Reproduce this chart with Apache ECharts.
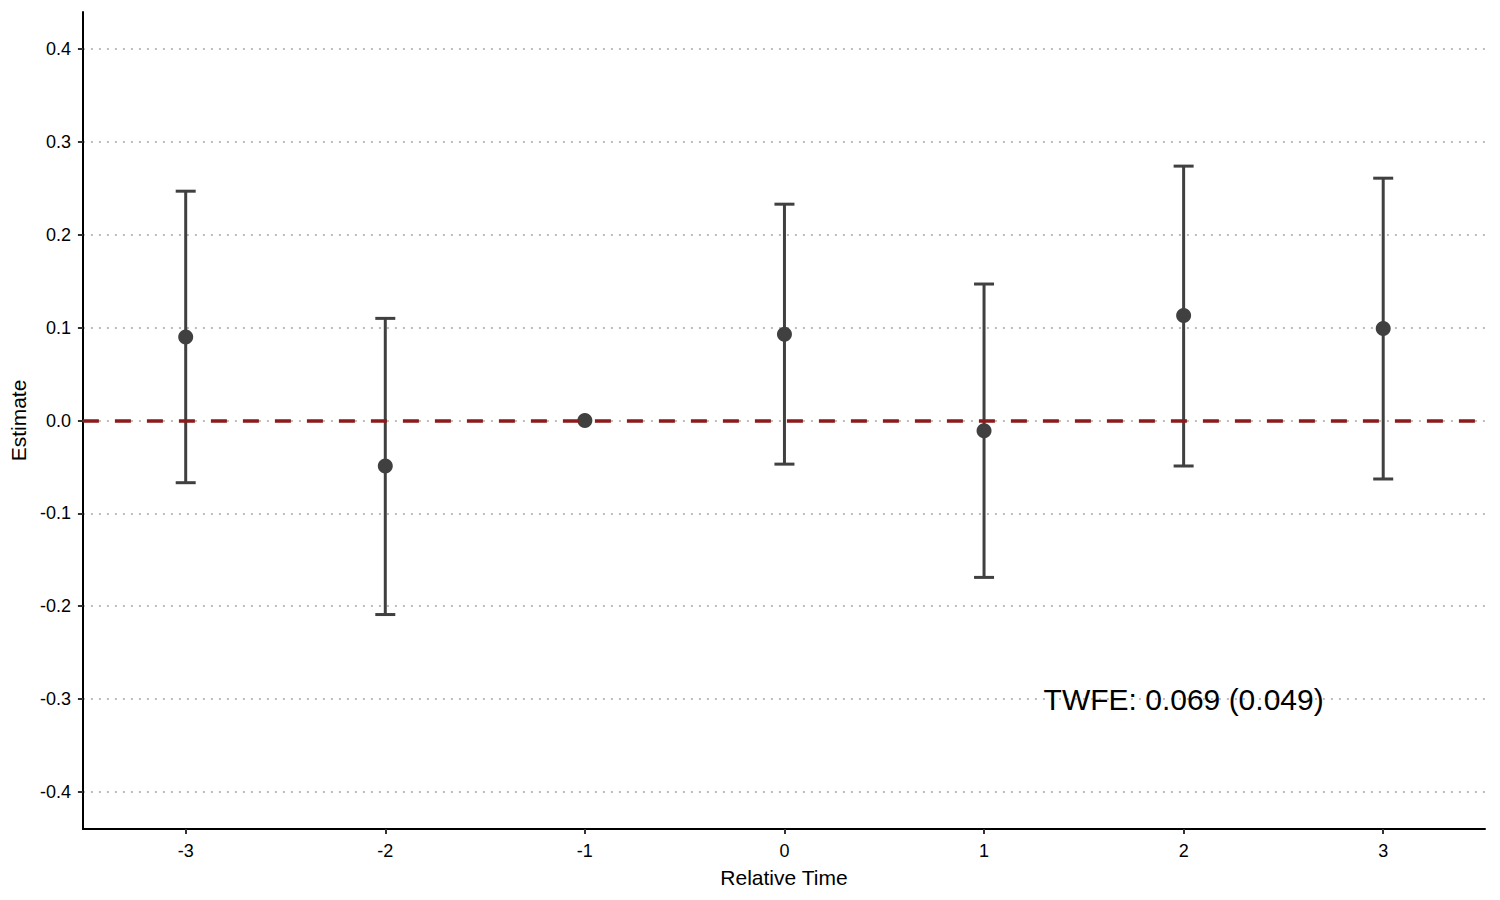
<!DOCTYPE html>
<html>
<head>
<meta charset="utf-8">
<script src="https://cdn.jsdelivr.net/npm/echarts@6/dist/echarts.min.js"></script>
<style>
  html, body { margin: 0; padding: 0; background: #fff; }
  #chart { width: 1500px; height: 900px; }
</style>
</head>
<body>
<div id="chart"></div>
<script>
// 数据
var relTime = [-3, -2, -1, 0, 1, 2, 3];
var estimates = [0.090, -0.049, 0, 0.093, -0.011, 0.113, 0.099];
var lower = [-0.067, -0.209, 0, -0.047, -0.169, -0.049, -0.063];
var upper = [0.247, 0.110, 0, 0.233, 0.147, 0.274, 0.261];
var xTicks = [-3, -2, -1, 0, 1, 2, 3];
var yTicks = [-0.4, -0.3, -0.2, -0.1, 0, 0.1, 0.2, 0.3, 0.4];
var annotation = { x: 2, y: -0.3, text: 'TWFE: 0.069 (0.049)' };

(function () {
  var myChart = echarts.init(document.getElementById('chart'), null, { renderer: 'svg' });
  var font = 'Liberation Sans, Arial, sans-serif';
  var ink = '#404040';

  // 点估计 [x, y]
  var points = [];
  // 误差线数据 [x, 下限, 上限]
  var bars = [];
  for (var i = 0; i < relTime.length; i++) {
    points.push([relTime[i], estimates[i]]);
    if (upper[i] !== lower[i]) bars.push([relTime[i], lower[i], upper[i]]);
  }

  function renderBar(params, api) {
    var x = api.value(0);
    var top = api.coord([x, api.value(2)]);
    var bot = api.coord([x, api.value(1)]);
    var half = 10;
    var style = { stroke: ink, lineWidth: 3 };
    return {
      type: 'group',
      children: [
        { type: 'line', shape: { x1: top[0], y1: top[1], x2: bot[0], y2: bot[1] }, style: style },
        { type: 'line', shape: { x1: top[0] - half, y1: top[1], x2: top[0] + half, y2: top[1] }, style: style },
        { type: 'line', shape: { x1: bot[0] - half, y1: bot[1], x2: bot[0] + half, y2: bot[1] }, style: style }
      ]
    };
  }

  var option = {
    animation: false,
    grid: { left: 82, right: 15, top: 12, bottom: 71, containLabel: false },
    xAxis: {
      type: 'value',
      min: -3.515,
      max: 3.51,
      name: 'Relative Time',
      nameLocation: 'middle',
      nameGap: 38,
      nameTextStyle: { color: '#000', fontSize: 21, fontFamily: font },
      axisLine: { onZero: false, lineStyle: { color: '#000', width: 2 } },
      axisTick: { show: true, length: 5, customValues: xTicks, lineStyle: { color: '#333', width: 2 } },
      axisLabel: {
        color: '#000', fontSize: 18, fontFamily: font, margin: 13,
        customValues: xTicks,
        formatter: function (v) { return String(v); }
      },
      splitLine: { show: false }
    },
    yAxis: {
      type: 'value',
      min: -0.44,
      max: 0.44,
      name: 'Estimate',
      nameLocation: 'middle',
      nameGap: 52,
      nameTextStyle: { color: '#000', fontSize: 21, fontFamily: font },
      axisLine: { show: true, onZero: false, lineStyle: { color: '#000', width: 2 } },
      axisTick: { show: true, length: 5, customValues: yTicks, lineStyle: { color: '#333', width: 2 } },
      axisLabel: {
        color: '#000', fontSize: 18, fontFamily: font, margin: 12,
        customValues: yTicks,
        formatter: function (v) { return v.toFixed(1); }
      },
      splitLine: { show: true, lineStyle: { color: '#bdbdbd', width: 2, type: [2, 6] } }
    },
    series: [
      {
        name: 'ci',
        type: 'custom',
        renderItem: renderBar,
        data: bars,
        encode: { x: 0, y: [1, 2] },
        z: 2,
        silent: true,
        markLine: {
          silent: true,
          symbol: 'none',
          label: { show: false },
          lineStyle: { color: '#8b1a1a', width: 3.5, type: [16, 16], opacity: 1 },
          data: [{ yAxis: 0 }]
        }
      },
      {
        name: 'estimate',
        type: 'scatter',
        data: points,
        symbol: 'circle',
        symbolSize: 15,
        itemStyle: { color: ink, opacity: 1 },
        z: 4,
        markPoint: {
          silent: true,
          symbol: 'circle',
          symbolSize: 0,
          label: {
            show: true, position: 'inside', formatter: annotation.text,
            color: '#000', fontSize: 30, fontFamily: font
          },
          data: [{ coord: [annotation.x, annotation.y] }]
        }
      }
    ]
  };
  myChart.setOption(option);
  window.addEventListener('resize', function () {
    myChart.resize();
  });
})();
</script>
</body>
</html>
